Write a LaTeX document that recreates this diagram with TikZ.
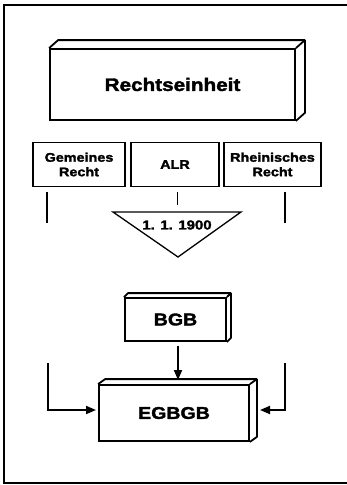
\documentclass[tikz,border=0pt]{standalone}
\usepackage{fontspec}
\newfontfamily\hv{Liberation Sans Bold}[FakeStretch=1.15,FakeBold=2]
\usetikzlibrary{calc,arrows.meta}
\begin{document}
\begin{tikzpicture}[x=1pt,y=-1pt,
  ln/.style={line width=1.8pt},
  box/.style={draw,line width=1.8pt,inner sep=0pt,align=center,font=\hv},
  smallbox/.style={box,minimum height=44pt,font=\hv\fontsize{12.5}{14.5}\selectfont},
  arr/.style={line width=1.8pt,-{Triangle[length=10pt,width=8pt]}}
]
\useasboundingbox (0,0) rectangle (347,485);
% frame
\draw[ln] (347,5) -- (4,5) -- (4,483) -- (347,483);
% Rechtseinheit
\node[box,minimum width=245pt,minimum height=71pt,font=\hv\fontsize{18}{20}\selectfont] (R) at (172.5,84.5) {Rechtseinheit};
\draw[ln,line join=round] (R.north west) -- ++(9,-8) -| ([shift={(9,-8)}]R.south east) -- (R.south east);
\draw[ln] (R.north east) -- ++(9,-8);
% three sources
\node[smallbox,minimum width=92pt] (G) at (79,164.5) {Gemeines\\Recht};
\node[smallbox,minimum width=88pt] (A) at (175,164.5) {ALR};
\node[smallbox,minimum width=97pt] (Rh) at (272.5,164.5) {Rheinisches\\Recht};
\coordinate (g1) at (47,192); \coordinate (g2) at (47,223);
\coordinate (a1) at (177,192); \coordinate (a2) at (177,205);
\coordinate (r1) at (285,192); \coordinate (r2) at (285,223);
\draw[ln] (g1) -- (g2);
\draw[line width=1pt] (a1) -- (a2);
\draw[ln] (r1) -- (r2);
% triangle
\coordinate (t1) at (113,212); \coordinate (t2) at (241,212); \coordinate (t3) at (178,257);
\draw[line width=1.3pt,line join=miter] (t1) -- (t2) -- (t3) -- cycle;
\node[font=\hv\fontsize{13}{15}\selectfont,inner sep=0pt] (D) at (177,225) {1. 1. 1900};
% BGB
\node[box,minimum width=101pt,minimum height=43pt,font=\hv\fontsize{17}{20}\selectfont] (B) at (175.5,319.5) {BGB};
\draw[ln,line join=round] (B.north west) -- ++(4,-4) -| ([shift={(4,-4)}]B.south east) -- (B.south east);
\draw[ln] (B.north east) -- ++(4,-4);
% EGBGB
\node[box,minimum width=150pt,minimum height=56pt,font=\hv\fontsize{17}{20}\selectfont] (E) at (174,413) {EGBGB};
\draw[ln,line join=round] (E.north west) -- ++(7,-5) -| ([shift={(7,-5)}]E.south east) -- (E.south east);
\draw[ln] (E.north east) -- ++(7,-5);
% arrows
\coordinate (b1) at (178,346); \coordinate (b2) at (178,380);
\draw[arr] (b1) -- (b2);
\coordinate (l1) at (48,363); \coordinate (l2) at (96,410);
\draw[arr] (l1) |- (l2);
\coordinate (q1) at (285,363); \coordinate (q2) at (260,410);
\draw[arr] (q1) |- (q2);
\end{tikzpicture}
\end{document}
